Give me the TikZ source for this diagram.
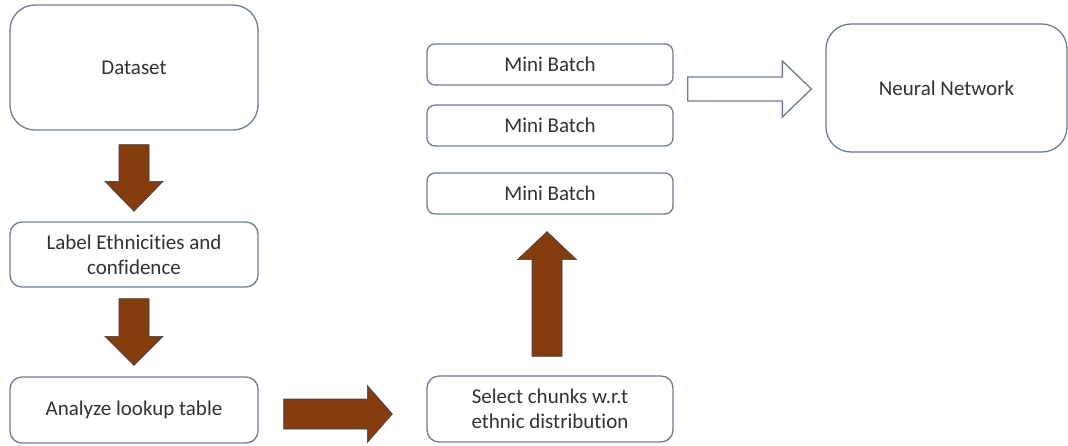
\documentclass[tikz,border=0pt]{standalone}
\usepackage{fontspec}
\setmainfont{Carlito}[Ligatures=NoCommon]
\usetikzlibrary{calc}

\definecolor{boxline}{RGB}{110,125,150}
\definecolor{txt}{RGB}{50,50,50}
\definecolor{arrowbrown}{HTML}{843C0C}
\definecolor{arrowedge}{RGB}{60,62,80}

% Block arrows: start point, tip point, half shaft width, half head width, head length, style
\newcommand{\arrowRight}[6]{%
  \draw[#6] let \p1=#1, \p2=#2 in
    (\x1,\y1+#3) -- (\x2-#5,\y1+#3) -- (\x2-#5,\y1+#4) -- (\x2,\y1)
    -- (\x2-#5,\y1-#4) -- (\x2-#5,\y1-#3) -- (\x1,\y1-#3) -- cycle;}
\newcommand{\arrowDown}[6]{%
  \draw[#6] let \p1=#1, \p2=#2 in
    (\x1-#3,\y1) -- (\x1+#3,\y1) -- (\x1+#3,\y2+#5) -- (\x1+#4,\y2+#5) -- (\x1,\y2)
    -- (\x1-#4,\y2+#5) -- (\x1-#3,\y2+#5) -- cycle;}
\newcommand{\arrowUp}[6]{%
  \draw[#6] let \p1=#1, \p2=#2 in
    (\x1-#3,\y1) -- (\x1+#3,\y1) -- (\x1+#3,\y2-#5) -- (\x1+#4,\y2-#5) -- (\x1,\y2)
    -- (\x1-#4,\y2-#5) -- (\x1-#3,\y2-#5) -- cycle;}

\tikzset{
  box/.style={draw=boxline, line width=1.3pt, fill=white, rounded corners=#1,
    text=txt, font=\fontsize{21}{25}\selectfont, align=center, inner sep=0pt},
  box/.default=12pt,
  solidarrow/.style={fill=arrowbrown, draw=arrowedge, line width=0.6pt},
  hollowarrow/.style={fill=white, draw=boxline, line width=1.3pt},
}

\begin{document}
\begin{tikzpicture}[x=1pt, y=-1pt]
\useasboundingbox (0,0) rectangle (1068,445);

% left column
\node[box=25pt, minimum width=248pt, minimum height=125pt] (ds) at (134,67.5) {Dataset};
\node[box, minimum width=248pt, minimum height=65pt] (lab) at (134,254.5) {Label Ethnicities and\\confidence};
\node[box, minimum width=248pt, minimum height=66pt] (ana) at (134,410) {Analyze lookup table};

% middle column
\node[box, minimum width=246pt, minimum height=66pt] (sel) at (550,409) {Select chunks w.r.t\\ethnic distribution};
\node[box=8pt, minimum width=246pt, minimum height=41pt] (mb1) at (550,64.5) {Mini Batch};
\node[box=8pt, minimum width=246pt, minimum height=41pt] (mb2) at (550,125.5) {Mini Batch};
\node[box=8pt, minimum width=246pt, minimum height=41pt] (mb3) at (550,193.5) {Mini Batch};

% right column
\node[box=25pt, minimum width=241pt, minimum height=128pt] (nn) at (946.5,88) {Neural Network};

% connectors
\arrowDown{($(ds.south)+(0,14)$)}{($(lab.north)+(0,-10)$)}{15pt}{29pt}{30pt}{solidarrow}
\arrowDown{($(lab.south)+(0,11)$)}{($(ana.north)+(0,-11)$)}{15pt}{29pt}{29pt}{solidarrow}
\arrowRight{($(ana.east)+(25,4)$)}{($(sel.west)+(-34,4)$)}{15pt}{28.5pt}{25pt}{solidarrow}
\arrowUp{($(sel.north)+(-3,-19)$)}{($(mb3.south)+(-3,17)$)}{15pt}{29.5pt}{28pt}{solidarrow}
\arrowRight{($(mb1.east |- nn.west)+(14,1)$)}{($(nn.west)+(-14,1)$)}{12pt}{28pt}{29pt}{hollowarrow}
\end{tikzpicture}
\end{document}
